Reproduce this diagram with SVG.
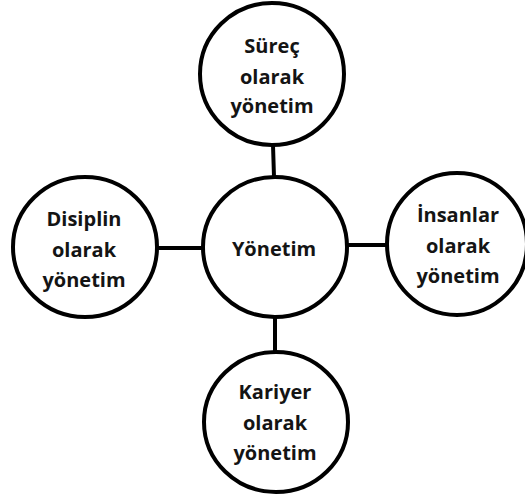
<svg xmlns="http://www.w3.org/2000/svg" width="525" height="496" viewBox="0 0 525 496">
<style>
.n{fill:#fff;stroke:#000;stroke-width:4}
.c{stroke:#000;stroke-width:4;fill:none}
text{font-family:"Open Sans","Liberation Sans",sans-serif;font-weight:bold;font-size:20px;fill:#141414;text-anchor:middle}
</style>
<rect width="525" height="496" fill="#fff"/>
<g id="connectors">
<line class="c" x1="273" y1="145" x2="274" y2="177"/>
<line class="c" x1="158" y1="248" x2="202" y2="248"/>
<line class="c" x1="348" y1="245" x2="388" y2="245"/>
<line class="c" x1="275" y1="318" x2="275" y2="352"/>
</g>
<g id="center"><ellipse class="n" cx="275" cy="247" rx="72" ry="70"/><text x="274" y="256">Yönetim</text></g>
<g id="top"><ellipse class="n" cx="272" cy="74" rx="72" ry="71"/><text x="272" y="53">Süreç</text><text x="272" y="84">olarak</text><text x="272" y="113">yönetim</text></g>
<g id="left"><ellipse class="n" cx="85" cy="247" rx="72" ry="70"/><text x="84" y="226">Disiplin</text><text x="84" y="257">olarak</text><text x="84" y="287">yönetim</text></g>
<g id="right"><ellipse class="n" cx="457" cy="244" rx="70" ry="71"/><text x="458" y="222">İnsanlar</text><text x="458" y="253">olarak</text><text x="458" y="283">yönetim</text></g>
<g id="bottom"><ellipse class="n" cx="276" cy="422" rx="72" ry="70"/><text x="275" y="399">Kariyer</text><text x="275" y="430">olarak</text><text x="275" y="460">yönetim</text></g>
</svg>
